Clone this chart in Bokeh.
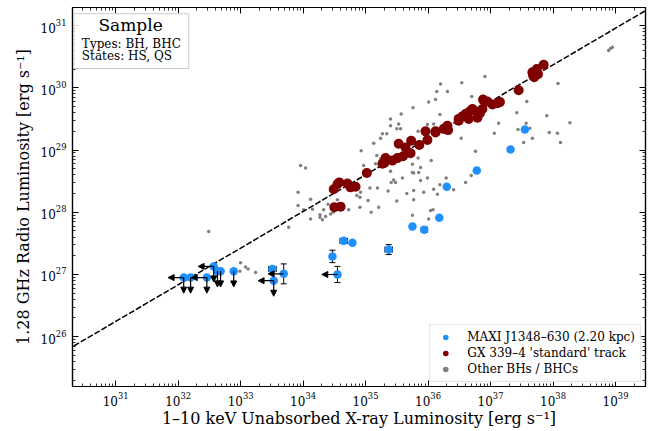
import numpy as np
from bokeh.plotting import figure
from bokeh.models import (Range1d, LogAxis, FixedTicker, Arrow, NormalHead, Whisker,
                          ColumnDataSource, BoxAnnotation, Label, Legend, LegendItem, TeeHead)
from bokeh.core.properties import value
from bokeh.embed import file_html
from bokeh.resources import INLINE

FONT = "DejaVu Serif"

# ---- data: log10 luminosities ----
# GX 339-4 standard track
gx_lx = [34.49, 34.55, 34.58, 34.71, 34.76, 34.84, 34.50, 34.60, 35.02, 35.27, 35.32, 35.30, 35.51,
         35.60, 35.53, 35.64, 35.73, 35.72, 35.86, 35.99, 36.12, 36.25, 36.31, 36.49, 36.60, 36.71,
         36.79, 36.12, 36.28, 36.32, 36.49, 36.55, 36.63, 36.68, 36.73, 36.65, 36.79, 36.83, 36.87,
         36.88, 36.95, 37.03, 37.11, 37.15, 37.45, 37.67, 37.70, 37.74, 37.76, 37.68, 37.85, 35.43, 35.96]
gx_lr = [28.37, 28.45, 28.48, 28.46, 28.40, 28.41, 28.08, 28.09, 28.63, 28.78, 28.87, 28.79, 28.87,
         28.90, 29.10, 29.04, 29.15, 28.95, 29.08, 29.16, 29.28, 29.34, 29.39, 29.47, 29.58, 29.66,
         29.61, 29.30, 29.34, 29.32, 29.50, 29.54, 29.59, 29.63, 29.64, 29.50, 29.52, 29.59, 29.66,
         29.81, 29.78, 29.73, 29.75, 29.77, 29.96, 30.25, 30.17, 30.30, 30.22, 30.20, 30.37, 28.83, 29.30]

# Other BHs / BHCs
oth_lx = [35.76, 36.01, 35.40, 35.57, 35.40, 35.53, 35.50, 35.56, 35.27, 35.34, 35.24, 35.13, 34.93,
          35.18, 35.84, 35.99, 36.09, 36.19, 35.96, 36.53, 36.76, 36.05, 35.84, 35.75, 34.97, 35.16,
          35.24, 35.40, 35.88, 35.85, 35.75, 35.77, 35.59, 35.45, 35.41, 35.48, 35.88, 35.99, 36.29,
          36.19, 36.09, 36.15, 36.41, 36.60, 36.69, 35.93, 35.77, 35.66, 35.36, 35.19, 35.07, 34.92,
          34.86, 34.91, 35.04, 35.21, 35.50, 35.77, 34.91, 34.73, 35.09, 34.55, 34.40, 34.33, 34.27,
          34.36, 34.44, 34.48, 34.12, 33.92, 33.96, 34.04, 33.92, 34.01, 34.15, 34.27, 34.12, 34.31,
          33.77, 35.75, 36.01, 36.08, 36.04, 36.20, 36.14, 36.31, 36.54, 36.12, 36.91, 36.70, 37.06,
          37.13, 37.42, 37.58, 37.57, 37.63, 37.44, 37.53, 37.67, 37.90, 37.94, 38.07, 38.12, 38.27,
          38.08, 38.92, 38.95, 38.89, 33.00, 33.08, 33.12, 33.24, 32.99, 32.49]
oth_lr = [29.68, 29.77, 29.50, 29.58, 29.39, 29.42, 29.34, 29.34, 29.26, 29.26, 29.19, 29.11, 28.99,
          28.91, 29.30, 29.41, 29.42, 29.57, 29.29, 29.19, 28.98, 28.83, 28.87, 28.77, 28.75, 28.78,
          28.86, 28.66, 28.72, 28.64, 28.64, 28.63, 28.55, 28.52, 28.48, 28.48, 28.51, 28.55, 28.55,
          28.44, 28.37, 28.29, 28.36, 28.48, 28.59, 28.32, 28.35, 28.30, 28.34, 28.39, 28.39, 28.32,
          28.27, 28.24, 28.19, 28.08, 28.18, 28.20, 28.08, 28.04, 28.00, 28.20, 28.13, 28.04, 27.96,
          27.93, 27.97, 28.00, 28.21, 28.32, 28.75, 28.71, 28.11, 28.04, 28.05, 27.92, 27.89, 27.88,
          27.76, 27.95, 27.89, 28.04, 28.03, 30.06, 29.94, 29.94, 30.08, 29.81, 30.18, 29.86, 29.27,
          29.43, 29.60, 29.78, 29.43, 29.35, 29.33, 29.12, 29.19, 29.55, 29.28, 29.27, 29.12, 29.44,
          30.07, 30.63, 30.65, 30.60, 27.19, 27.12, 27.09, 27.03, 27.05, 27.69]

# MAXI J1348-630 detections
maxi_lx = [37.55, 37.32, 36.78, 36.30, 36.18, 35.75, 35.94, 35.37, 34.79, 34.65, 34.47, 33.51]
maxi_lr = [29.33, 29.01, 28.67, 28.41, 27.91, 27.77, 27.72, 27.40, 27.51, 27.54, 27.29, 27.09]
maxi_xerr = [0, 0, 0, 0, 0, 0, 0.05, 0.06, 0, 0.06, 0.03, 0.06]
maxi_yerr = [0, 0, 0, 0, 0, 0, 0, 0.08, 0, 0, 0.10, 0]

# MAXI J1348-630 limits
ul_lx = [32.09, 32.20, 32.46, 32.57, 32.63, 32.68, 32.89, 33.69, 33.53, 34.55]
ul_lr = [26.95, 26.95, 26.95, 27.13, 27.05, 27.05, 27.05, 27.01, 26.90, 27.00]
ul_xlim = [1, 0, 1, 1, 0, 0, 0, 1, 1, 1]
ul_ylim = [1, 1, 1, 1, 1, 1, 1, 0, 1, 0]
ul_yerr = [0, 0, 0, 0, 0, 0, 0, 0.16, 0, 0.13]

# correlation line: log LR = norm + slope * (log LX - 36)
line_norm = 29.19
line_slope = 0.589
line_lx = [30.0, 40.0]

x_major = list(range(31, 40))
y_major = list(range(26, 32))

# ---- figure ----
p = figure(width=661, height=431, x_axis_type="log", y_axis_type="log",
           x_range=Range1d(10**30.31, 10**39.48), y_range=Range1d(10**25.2, 10**31.29),
           output_backend="svg", toolbar_location=None,
           min_border_left=72, min_border_right=16, min_border_top=7, min_border_bottom=45)
p.background_fill_color = "white"
p.border_fill_color = "white"
p.xgrid.visible = False
p.ygrid.visible = False
p.outline_line_color = "black"
p.outline_line_width = 1.2

xt = FixedTicker(ticks=[10.0**e for e in x_major],
                 minor_ticks=[m * 10.0**e for e in range(30, 40) for m in range(2, 10)])
yt = FixedTicker(ticks=[10.0**e for e in y_major],
                 minor_ticks=[m * 10.0**e for e in range(25, 32) for m in range(2, 10)])

def style(ax, ticker, labels=True):
    ax.ticker = ticker
    ax.major_tick_in = 6
    ax.major_tick_out = 0
    ax.minor_tick_in = 3
    ax.minor_tick_out = 0
    ax.axis_line_color = "black"
    ax.axis_line_width = 1.2
    ax.major_tick_line_width = 1
    ax.minor_tick_line_width = 0.8
    ax.major_label_text_font = FONT
    ax.major_label_text_font_size = "12px"
    ax.major_label_text_color = "black"
    ax.axis_label_text_font = FONT
    ax.axis_label_text_font_size = "16px"
    ax.axis_label_text_font_style = "normal"
    ax.axis_label_text_color = "black"
    if not labels:
        ax.major_label_text_font_size = "1px"
        ax.major_label_text_alpha = 0
        ax.major_label_standoff = 0

style(p.xaxis[0], xt)
style(p.yaxis[0], yt)
p.xaxis[0].axis_label = "1–10 keV Unabsorbed X-ray Luminosity [erg s⁻¹]"
p.yaxis[0].axis_label = "1.28 GHz Radio Luminosity [erg s⁻¹]"
p.xaxis[0].axis_label_standoff = 0
p.yaxis[0].axis_label_standoff = 5
p.xaxis[0].major_label_standoff = 5
p.yaxis[0].major_label_standoff = 6

top = LogAxis()
style(top, xt, labels=False)
p.add_layout(top, "above")
right = LogAxis()
style(right, yt, labels=False)
p.add_layout(right, "right")

# grey other sources
r_oth = p.scatter([10**v for v in oth_lx], [10**v for v in oth_lr], size=3.5,
                  fill_color="grey", line_color=None)

# dashed line
p.line([10**v for v in line_lx], [10**(line_norm + line_slope * (v - 36)) for v in line_lx],
       line_color="black", line_dash="6 2", line_width=1.5)

# GX 339-4
r_gx = p.scatter([10**v for v in gx_lx], [10**v for v in gx_lr], size=10,
                 fill_color="#800000", line_color=None)

# error bars for detections
ex = [i for i, e in enumerate(maxi_xerr) if e > 0]
src_xe = ColumnDataSource(dict(
    y=[10**maxi_lr[i] for i in ex],
    lo=[10**(maxi_lx[i] - maxi_xerr[i]) for i in ex],
    hi=[10**(maxi_lx[i] + maxi_xerr[i]) for i in ex]))
p.add_layout(Whisker(source=src_xe, base="y", lower="lo", upper="hi", dimension="width",
                     line_color="black", line_width=1,
                     upper_head=TeeHead(size=6, line_color="black", line_width=1),
                     lower_head=TeeHead(size=6, line_color="black", line_width=1)))
ey = [i for i, e in enumerate(maxi_yerr) if e > 0]
src_ye = ColumnDataSource(dict(
    x=[10**maxi_lx[i] for i in ey] + [10**ul_lx[i] for i, e in enumerate(ul_yerr) if e > 0],
    lo=[10**(maxi_lr[i] - maxi_yerr[i]) for i in ey] + [10**(ul_lr[i] - e) for i, e in enumerate(ul_yerr) if e > 0],
    hi=[10**(maxi_lr[i] + maxi_yerr[i]) for i in ey] + [10**(ul_lr[i] + e) for i, e in enumerate(ul_yerr) if e > 0]))
p.add_layout(Whisker(source=src_ye, base="x", lower="lo", upper="hi", dimension="height",
                     line_color="black", line_width=1,
                     upper_head=TeeHead(size=6, line_color="black", line_width=1),
                     lower_head=TeeHead(size=6, line_color="black", line_width=1)))

# limit arrows
arr = 0.25
xi = [i for i, f in enumerate(ul_xlim) if f]
src_xa = ColumnDataSource(dict(x0=[10**ul_lx[i] for i in xi], y0=[10**ul_lr[i] for i in xi],
                               x1=[10**(ul_lx[i] - arr) for i in xi]))
p.add_layout(Arrow(source=src_xa, x_start="x0", y_start="y0", x_end="x1", y_end="y0",
                   line_color="black", line_width=1.2,
                   end=NormalHead(size=6, fill_color="black", line_color="black")))
yi = [i for i, f in enumerate(ul_ylim) if f]
src_ya = ColumnDataSource(dict(x0=[10**ul_lx[i] for i in yi], y0=[10**ul_lr[i] for i in yi],
                               y1=[10**(ul_lr[i] - arr) for i in yi]))
p.add_layout(Arrow(source=src_ya, x_start="x0", y_start="y0", x_end="x0", y_end="y1",
                   line_color="black", line_width=1.2,
                   end=NormalHead(size=6, fill_color="black", line_color="black")))

# MAXI points
r_maxi = p.scatter([10**v for v in maxi_lx] + [10**v for v in ul_lx],
                   [10**v for v in maxi_lr] + [10**v for v in ul_lr],
                   size=8.5, fill_color="#1E90FF", line_color=None)

# legend
leg = Legend(items=[LegendItem(label="MAXI J1348–630 (2.20 kpc)", renderers=[r_maxi]),
                    LegendItem(label="GX 339–4 'standard' track", renderers=[r_gx]),
                    LegendItem(label="Other BHs / BHCs", renderers=[r_oth])],
             location="bottom_right")
leg.label_text_font = FONT
leg.label_text_font_size = "12px"
leg.label_text_color = "black"
leg.label_standoff = 12
leg.glyph_width = 20
leg.glyph_height = 14
leg.label_height = 14
leg.spacing = 2
leg.padding = 5
leg.margin = 4
leg.border_line_color = "#cccccc"
leg.border_line_width = 1
leg.background_fill_alpha = 0.85
p.add_layout(leg)

# "Sample" box
p.add_layout(BoxAnnotation(left=10**30.33, right=10**32.17, bottom=10**30.31, top=10**31.19,
                           fill_color="white", fill_alpha=0.85, line_color="#cccccc",
                           line_width=1, line_alpha=1))
p.add_layout(Label(x=10**31.24, y=10**31.01, text="Sample", text_font=FONT,
                   text_font_size="17px", text_color="black",
                   text_align="center", text_baseline="middle"))
p.add_layout(Label(x=10**30.46, y=10**30.71, text="Types: BH, BHC", text_font=FONT,
                   text_font_size="12px", text_color="black",
                   text_align="left", text_baseline="middle"))
p.add_layout(Label(x=10**30.46, y=10**30.51, text="States: HS, QS", text_font=FONT,
                   text_font_size="12px", text_color="black",
                   text_align="left", text_baseline="middle"))

open("out.html", "w").write(file_html(p, INLINE))
